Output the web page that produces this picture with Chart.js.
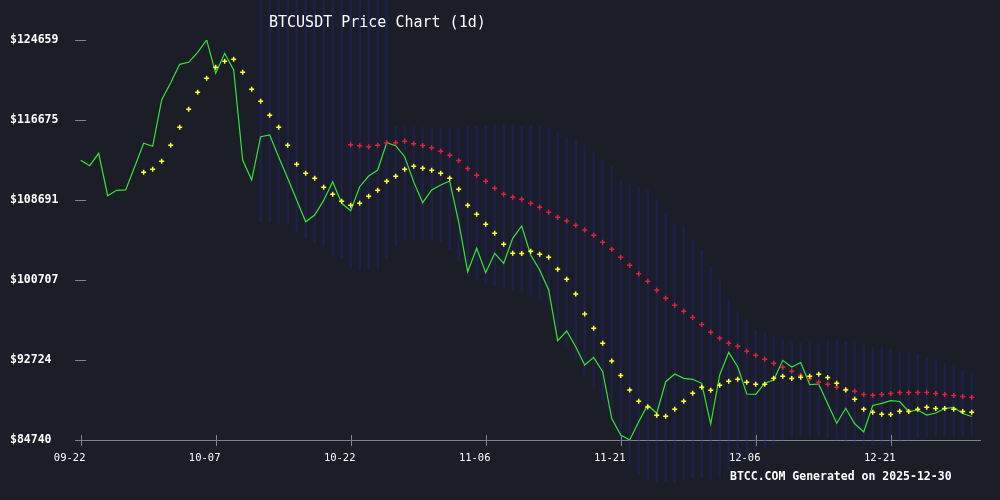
<!DOCTYPE html>
<html lang="en">
  <head>
    <meta charset="UTF-8" />
    <title>BTCUSDT Price Chart</title>
    <script src="https://cdn.jsdelivr.net/npm/chart.js@4.4.1/dist/chart.umd.min.js"></script>
    <style>
      html, body { margin: 0; padding: 0; background: #1b1d27; }
      canvas { display: block; }
    </style>
  </head>
  <body>
    <canvas id="Graph" width="1000" height="500"></canvas>

    <script>
      // daily candles, 2025-09-22 .. 2025-12-30
      const dates = [
        '09-22','09-23','09-24','09-25','09-26','09-27','09-28','09-29','09-30',
        '10-01','10-02','10-03','10-04','10-05','10-06','10-07','10-08','10-09','10-10',
        '10-11','10-12','10-13','10-14','10-15','10-16','10-17','10-18','10-19','10-20',
        '10-21','10-22','10-23','10-24','10-25','10-26','10-27','10-28','10-29','10-30','10-31',
        '11-01','11-02','11-03','11-04','11-05','11-06','11-07','11-08','11-09','11-10',
        '11-11','11-12','11-13','11-14','11-15','11-16','11-17','11-18','11-19','11-20',
        '11-21','11-22','11-23','11-24','11-25','11-26','11-27','11-28','11-29','11-30',
        '12-01','12-02','12-03','12-04','12-05','12-06','12-07','12-08','12-09','12-10',
        '12-11','12-12','12-13','12-14','12-15','12-16','12-17','12-18','12-19','12-20',
        '12-21','12-22','12-23','12-24','12-25','12-26','12-27','12-28','12-29','12-30'
      ];

      const price = [
        112653, 112114, 113352, 109120, 109659, 109700, 112014, 114350, 114050, 118671,
        120398, 122234, 122433, 123431, 124659, 121336, 123332, 121665, 112683, 110687,
        115008, 115178, 112982, 110857, 108691, 106525, 107194, 108650, 110517, 108362,
        107623, 110018, 111086, 111685, 114410, 114110, 113012, 110500, 108422, 109689,
        110188, 110587, 106495, 101535, 103871, 101436, 103372, 102374, 104869, 106096,
        103202, 101705, 99709, 94649, 95617, 94050, 92224, 92992, 91555, 86905,
        85238, 84740, 86565, 88232, 87404, 90557, 91326, 90897, 90797, 90398,
        86336, 91226, 93491, 92054, 89330, 89300, 90398, 90727, 92693, 92024,
        92473, 90278, 90328, 88352, 86406, 87903, 86356, 85537, 88182, 88402,
        88661, 88581, 87583, 87733, 87234, 87434, 87883, 88002, 87384, 87084
      ];

      const maShort = [
        null, null, null, null, null, null, null, 111455, 111755, 112553,
        114150, 115956, 117743, 119439, 120837, 121934, 122533, 122733, 121445, 119739,
        118541, 117144, 115946, 114150, 112254, 111356, 110857, 109958, 109260, 108561,
        108162, 108362, 109060, 109659, 110557, 111056, 111755, 112054, 111855, 111655,
        111356, 110857, 109759, 108162, 107264, 106266, 105368, 104270, 103372, 103350,
        103571, 103272, 102972, 101775, 100777, 99310, 97314, 95887, 94390, 92623,
        91176, 89729, 88602, 88032, 87204, 87104, 87803, 88602, 89400, 89998,
        89699, 90198, 90597, 90797, 90497, 90298, 90310, 90897, 91096, 90880,
        90996, 91110, 91306, 90980, 90398, 89721, 88801, 87803, 87503, 87304,
        87290, 87605, 87595, 87803, 88002, 87895, 87890, 87800, 87595, 87503
      ];

      const maLong = [
        null, null, null, null, null, null, null, null, null, null,
        null, null, null, null, null, null, null, null, null, null,
        null, null, null, null, null, null, null, null, null, null,
        114210, 114110, 114010, 114150, 114410, 114400, 114549, 114310, 114140, 113911,
        113551, 113152, 112633, 111835, 111166, 110557, 109859, 109260, 108960, 108761,
        108362, 107962, 107463, 106964, 106595, 106166, 105697, 105168, 104469, 103771,
        102972, 102174, 101336, 100577, 99679, 98881, 98192, 97583, 96964, 96266,
        95487, 94889, 94400, 94090, 93601, 93192, 92803, 92404, 92004, 91605,
        91206, 90877, 90507, 90298, 90008, 89779, 89599, 89280, 89200, 89280,
        89391, 89491, 89490, 89490, 89490, 89373, 89280, 89174, 89092, 89012
      ];

      const bandUpper = [
        null, null, null, null, null, null, null, null, null, null,
        null, null, null, null, null, null, null, null, null, null,
        129800, 130200, 130500, 130700, 130900, 131000, 131000, 130900, 130700, 130500,
        130300, 130000, 129800, 129500, 129000, 116100, 116000, 116000, 115950, 115900,
        115900, 115850, 115900, 116000, 116050, 116100, 116200, 116250, 116200, 116150,
        116100, 116000, 115900, 115378, 114978, 114679, 114180, 113381, 112683, 111984,
        110687, 110388, 109988, 109689, 108691, 107394, 106396, 105996, 104699, 103701,
        102004, 100707, 98711, 97414, 96715, 95717, 95418, 95019, 94719, 94520,
        94420, 94420, 94420, 94719, 94719, 94520, 94420, 94220, 94021, 93921,
        93721, 93522, 93422, 93322, 93022, 92723, 92424, 92025, 91725, 91426
      ];

      const bandLower = [
        null, null, null, null, null, null, null, null, null, null,
        null, null, null, null, null, null, null, null, null, null,
        106495, 106495, 106296, 106196, 105497, 104899, 104500, 104200, 103202, 102903,
        101905, 101705, 101705, 101905, 102903, 104200, 104699, 104699, 104699, 104699,
        104500, 103701, 102503, 101107, 100707, 100408, 100108, 99909, 99709, 99510,
        99210, 98711, 98212, 95717, 94220, 92723, 91226, 89929, 88731, 86735,
        84240, 82244, 81246, 80747, 80547, 80547, 80547, 80747, 80946, 80946,
        80747, 80946, 81745, 82743, 83242, 83742, 83941, 84240, 84740, 84939,
        85139, 85139, 85139, 84939, 84740, 84540, 84440, 84240, 84240, 84340,
        84440, 84540, 84740, 84939, 85039, 85139, 85139, 85139, 85139, 85139
      ];

      const yTicks = [84740, 92724, 100707, 108691, 116675, 124659];
      const yTickLabels = ['$84740', '$92724', '$100707', '$108691', '$116675', '$124659'];
      const xTickLabels = ['09-22', '10-07', '10-22', '11-06', '11-21', '12-06', '12-21'];

      const titleText = 'BTCUSDT Price Chart (1d)';
      const footerText = 'BTCC.COM Generated on 2025-12-30';

      const BG = '#1b1d27';
      const AXIS = '#80828c';
      const MONO = '"DejaVu Sans Mono", "Liberation Mono", monospace';

      const points = arr => arr.map((v, i) => (v == null ? null : { x: i, y: v })).filter(Boolean);
      const bands = bandUpper
        .map((u, i) => (u == null ? null : { x: i, y: [bandLower[i], u] }))
        .filter(Boolean);

      const decor = {
        id: 'decor',
        beforeDraw(chart) {
          const ctx = chart.ctx;
          ctx.save();
          ctx.fillStyle = BG;
          ctx.fillRect(0, 0, chart.width, chart.height);
          ctx.restore();
        },
        afterDraw(chart) {
          const ctx = chart.ctx;
          const xs = chart.scales.x;
          const ys = chart.scales.y;
          const area = chart.chartArea;
          ctx.save();
          ctx.strokeStyle = AXIS;
          ctx.lineWidth = 1;
          // little dashes for the price ticks
          yTicks.forEach(v => {
            const y = Math.round(ys.getPixelForValue(v)) + 0.5;
            ctx.beginPath();
            ctx.moveTo(area.left, y);
            ctx.lineTo(area.left + 11, y);
            ctx.stroke();
          });
          // date tick marks crossing the axis
          xTickLabels.forEach(l => {
            const x = Math.round(xs.getPixelForValue(dates.indexOf(l))) + 0.5;
            ctx.beginPath();
            ctx.moveTo(x, area.bottom - 5);
            ctx.lineTo(x, area.bottom + 6);
            ctx.stroke();
          });
          ctx.fillStyle = '#ffffff';
          ctx.textBaseline = 'middle';
          ctx.textAlign = 'left';
          ctx.font = '15px ' + MONO;
          ctx.fillText(titleText, 269, 23);
          ctx.font = 'bold 11.5px ' + MONO;
          ctx.fillText(footerText, 730, 477);
          ctx.restore();
        }
      };

      window.addEventListener('load', setup);

      function setup() {
        const element = document.getElementById('Graph').getContext('2d');
        new Chart(element, {
          data: {
            datasets: [
              {
                type: 'bar',
                data: bands,
                backgroundColor: 'rgba(40, 40, 185, 0.26)',
                borderWidth: 0,
                barThickness: 2,
                grouped: false,
                clip: false,
                order: 4
              },
              {
                type: 'line',
                data: points(price),
                borderColor: '#33e633',
                borderWidth: 1.2,
                pointRadius: 0,
                tension: 0,
                fill: false,
                order: 3
              },
              {
                type: 'line',
                data: points(maLong),
                showLine: false,
                pointStyle: 'cross',
                pointRadius: 2.5,
                pointBorderWidth: 1.5,
                borderColor: '#e0203c',
                order: 2
              },
              {
                type: 'line',
                data: points(maShort),
                showLine: false,
                pointStyle: 'cross',
                pointRadius: 2.5,
                pointBorderWidth: 1.5,
                borderColor: '#ffff33',
                order: 1
              }
            ]
          },
          options: {
            responsive: false,
            animation: false,
            devicePixelRatio: 1,
            layout: { padding: { left: 10, right: 20, top: 40, bottom: 0 } },
            plugins: {
              legend: { display: false },
              tooltip: { enabled: false },
              title: { display: false }
            },
            scales: {
              x: {
                type: 'linear',
                offset: false,
                min: -0.63,
                max: 99.92,
                afterFit: s => { s.height = 60; },
                afterBuildTicks: s => {
                  s.ticks = xTickLabels.map(l => ({ value: dates.indexOf(l) }));
                },
                ticks: {
                  callback: v => dates[v],
                  color: '#ffffff',
                  font: { family: MONO, size: 10.5 },
                  padding: 4,
                  labelOffset: -11,
                  maxRotation: 0,
                  autoSkip: false
                },
                grid: { display: false, offset: false },
                border: { display: true, color: AXIS, width: 1 }
              },
              y: {
                min: yTicks[0],
                max: yTicks[yTicks.length - 1],
                afterFit: s => { s.width = 65; },
                afterBuildTicks: s => {
                  s.ticks = yTicks.map(v => ({ value: v }));
                },
                ticks: {
                  callback: (v, i) => yTickLabels[i],
                  crossAlign: 'far',
                  color: '#ffffff',
                  font: { family: MONO, size: 11.5, weight: 'bold' }
                },
                grid: { display: false },
                border: { display: false }
              }
            }
          },
          plugins: [decor]
        });
      }
    </script>
  </body>
</html>
